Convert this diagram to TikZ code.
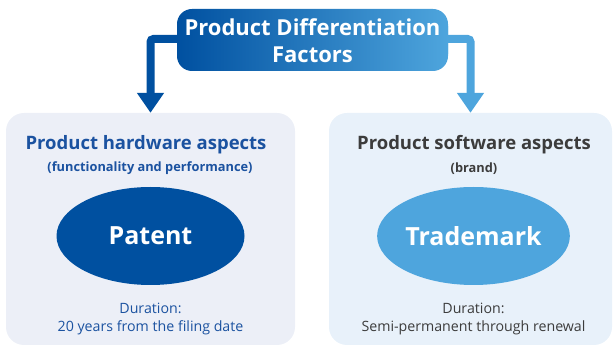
\documentclass[tikz,border=0pt]{standalone}
\usepackage{fontspec}
\setmainfont{Open Sans}
\usetikzlibrary{arrows.meta,shapes.geometric}
\definecolor{dkblue}{HTML}{0050A0}
\definecolor{midblue}{HTML}{0A7CC4}
\definecolor{ltblue}{HTML}{4EA5DD}
\definecolor{txtblue}{HTML}{1B52A0}
\definecolor{txtgrey}{HTML}{3C3C3C}
\definecolor{panelL}{HTML}{ECEFF7}
\definecolor{panelR}{HTML}{E8F1FA}
\tikzset{
  panel/.style={rounded corners=18pt, minimum width=289pt, minimum height=232pt, inner sep=0pt},
  oval/.style={ellipse, minimum width=188pt, minimum height=98pt, inner sep=0pt, text=white, font=\fontsize{25}{28}\selectfont\bfseries},
  titletext/.style={font=\fontsize{18.5}{21}\selectfont\bfseries},
  subtext/.style={font=\fontsize{12.8}{15}\selectfont\bfseries},
  durtext/.style={font=\fontsize{14.2}{18}\selectfont, align=center},
  flowarrow/.style={line width=8pt, -{Triangle[width=26pt,length=20pt]}, rounded corners=3pt},
}
\begin{document}
\begin{tikzpicture}[x=1pt,y=-1pt]
\useasboundingbox (0,0) rectangle (614,347);
\node[panel, fill=panelL] (lp) at (150.5,229) {};
\node[panel, fill=panelR, minimum width=283pt] (rp) at (470.5,229) {};
\node[shape=rectangle, rounded corners=15pt, minimum width=271pt, minimum height=60pt, inner sep=0pt,
      left color=dkblue, middle color=midblue, right color=ltblue] (top) at (312.5,39) {};
\draw[flowarrow, dkblue] (top.west) -| (lp.north);
\draw[flowarrow, ltblue] (top.east) -| (rp.north);
\node[shape=rectangle, rounded corners=15pt, minimum width=271pt, minimum height=60pt, inner sep=0pt,
      left color=dkblue, middle color=midblue, right color=ltblue, text=white, align=center,
      font=\fontsize{22}{27}\selectfont\bfseries] (topt) at (312.5,41) {Product Differentiation\\Factors};
\node[titletext, text=txtblue] (lt) at (146,145) {Product hardware aspects};
\node[subtext, text=txtblue] (ls) at (150,168.5) {(functionality and performance)};
\node[oval, fill=dkblue] (pat) at (150.5,236) {Patent};
\node[durtext, text=txtblue] (ld) at (150.5,319) {Duration:\\20 years from the filing date};
\node[titletext, text=txtgrey] (rt) at (474,145) {Product software aspects};
\node[subtext, text=txtgrey] (rs) at (474,168.5) {(brand)};
\node[oval, fill=ltblue] (tm) at (473.5,236) {Trademark};
\node[durtext, text=txtgrey] (rd) at (473.5,319) {Duration:\\Semi-permanent through renewal};
\end{tikzpicture}
\end{document}
